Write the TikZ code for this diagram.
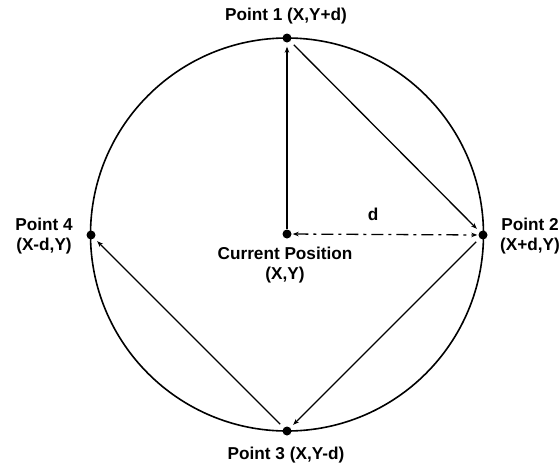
\documentclass[tikz,border=0pt]{standalone}
\usepackage{fontspec}
\setmainfont{Liberation Sans}
\usetikzlibrary{arrows.meta}
\begin{document}
\begin{tikzpicture}[x=1pt,y=-1pt,
  lbl/.style={font=\bfseries\fontsize{17.2}{20.5}\selectfont, inner sep=0pt, align=center},
  dotnode/.style={circle, fill=black, inner sep=0pt, minimum size=9pt},
  arr/.style={line width=1.3pt, -{Stealth[length=6pt,width=4.5pt]}, shorten >=4pt}]
\useasboundingbox (0,0) rectangle (560,464);
\node[circle, draw, line width=1.6pt, minimum size=393pt, inner sep=0pt] (circ) at (287,234.5) {};
\node[dotnode] (c) at (287,234) {};
\node[dotnode] (p1) at (287,38) {};
\node[dotnode] (p2) at (483,235) {};
\node[dotnode] (p3) at (287,431) {};
\node[dotnode] (p4) at (91,235) {};
\node[lbl] (l1) at (286,16) {Point 1 (X,Y+d)};
\node[lbl] (l2) at (530,236) {Point 2\\(X+d,Y)};
\node[lbl] (l3) at (286,455) {Point 3 (X,Y-d)};
\node[lbl] (l4) at (44,236) {Point 4\\(X-d,Y)};
\node[lbl] (lc) at (285,265) {Current Position\\(X,Y)};
\node[lbl] (ld) at (373,214) {d};
\draw[arr, shorten <=0pt] (c) -- (p1);
\draw[arr, shorten <=5pt] (p1) -- (p2);
\draw[arr, shorten <=5pt] (p2) -- (p3);
\draw[arr, shorten <=5pt] (p3) -- (p4);
\draw[line width=1.3pt, dash pattern=on 12pt off 5pt on 3pt off 5pt,
  {Stealth[length=6pt,width=4.5pt]}-{Stealth[length=6pt,width=4.5pt]}, shorten >=1pt, shorten <=1pt] (c) -- (p2);
\end{tikzpicture}
\end{document}
